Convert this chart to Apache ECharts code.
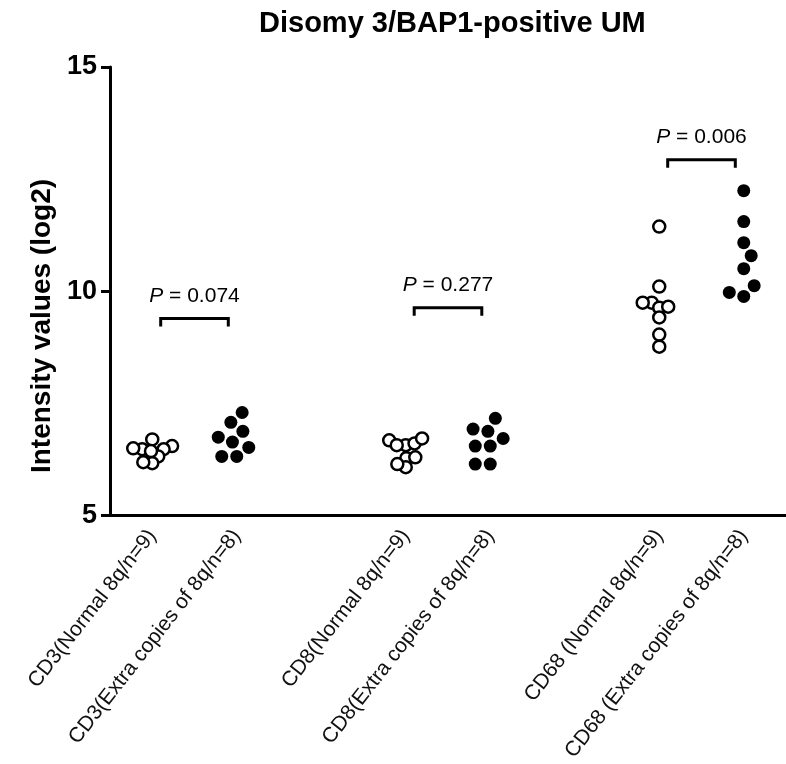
<!DOCTYPE html>
<html>
<head>
<meta charset="utf-8">
<script src="https://cdn.jsdelivr.net/npm/echarts@6/dist/echarts.min.js"></script>
<style>html,body{margin:0;padding:0;background:#fff}#c{width:786px;height:764px}</style>
</head>
<body>
<div id="c"></div>
<script>
// ---- data ----
const categories = ['CD3(Normal 8q/n=9)', 'CD3(Extra copies of 8q/n=8)', '',
  'CD8(Normal 8q/n=9)', 'CD8(Extra copies of 8q/n=8)', '',
  'CD68 (Normal 8q/n=9)', 'CD68 (Extra copies of 8q/n=8)'];
const cd3Normal = [6.69, 6.54, 6.47, 6.49, 6.47, 6.31, 6.43, 6.16, 6.18];
const cd3Extra = [7.29, 7.07, 6.87, 6.74, 6.63, 6.51, 6.31, 6.31];
const cd8Normal = [6.67, 6.56, 6.56, 6.60, 6.71, 6.27, 6.29, 6.07, 6.14];
const cd8Extra = [7.16, 6.87, 6.92, 6.71, 6.54, 6.54, 6.14, 6.14];
const cd68Normal = [11.44, 10.10, 9.74, 9.63, 9.65, 9.74, 9.41, 9.03, 8.76];
const cd68Extra = [12.24, 11.55, 11.08, 10.79, 10.50, 10.12, 9.88, 9.97];
const yTicks = [5, 10, 15];
// comparisons: [category index a, category index b], bracket height, p value
const pairs = [[0, 1], [3, 4], [6, 7]];
const bracketHeights = [9.39, 9.63, 12.93];
const pValues = ['0.074', '0.277', '0.006'];

// ---- layout ----
const W = 786, H = 764;
const grid = { left: 110, right: 0, top: 67, bottom: 248 };
const xMin = -0.5, xMax = 7.5, yMin = 5, yMax = 15;
const pxPerX = (W - grid.left - grid.right) / (xMax - xMin);
const pxPerY = (H - grid.top - grid.bottom) / (yMax - yMin);

// compact beeswarm: horizontal offsets so dots don't overlap too much
function swarm(values, d) {
  const order = values.map((v, i) => i).sort((a, b) => values[a] - values[b]);
  const placed = [];
  const off = new Array(values.length);
  order.forEach((i, k) => {
    const y = values[i] * pxPerY;
    const iv = [];
    placed.forEach(p => {
      const dy = Math.abs(p.y - y);
      if (dy < d) { const w = Math.sqrt(d * d - dy * dy); iv.push([p.x - w, p.x + w]); }
    });
    const cands = [0];
    iv.forEach(([a, b]) => cands.push(a, b));
    const sign = k % 2 ? -1 : 1;
    cands.sort((a, b) => (Math.abs(a) - Math.abs(b)) || (sign * (b - a)));
    let x = 0;
    for (const c of cands) {
      if (iv.every(([a, b]) => c <= a + 1e-6 || c >= b - 1e-6)) { x = c; break; }
    }
    placed.push({ x, y });
    off[i] = x / pxPerX;
  });
  return off;
}

function points(values, cat, d) {
  const off = swarm(values, d);
  return values.map((v, i) => [cat + off[i], v]);
}

const font = 'Liberation Sans, Arial, sans-serif';
const openStyle = { color: '#fff', borderColor: '#000', borderWidth: 2.5, opacity: 1 };
const fillStyle = { color: '#000', opacity: 1 };

function dots(values, cat, open) {
  return {
    type: 'scatter', xAxisIndex: 1, yAxisIndex: 0,
    data: points(values, cat, open ? 9 : 15),
    symbol: 'circle', symbolSize: open ? 12 : 13,
    itemStyle: open ? openStyle : fillStyle,
    silent: true, z: 3
  };
}

const bracketData = pairs.map((p, i) => [p[0], p[1], bracketHeights[i], pValues[i]]);

const chart = echarts.init(document.getElementById('c'), null, { renderer: 'canvas' });
chart.setOption({
  backgroundColor: '#fff',
  animation: false,
  title: {
    text: 'Disomy 3/BAP1-positive UM', left: 254, top: 4,
    textStyle: { fontFamily: font, fontWeight: 'bold', fontSize: 29, color: '#000' }
  },
  graphic: [{
    type: 'text', x: 42, y: 326, rotation: Math.PI / 2,
    style: {
      text: 'Intensity values (log2)', align: 'center', verticalAlign: 'middle',
      fontFamily: font, fontWeight: 'bold', fontSize: 28, fill: '#000'
    }
  }],
  grid: grid,
  xAxis: [{
    type: 'category', data: categories, boundaryGap: true,
    axisLine: { onZero: false, lineStyle: { color: '#000', width: 3 } },
    axisTick: { alignWithLabel: true, length: 9, lineStyle: { color: '#000', width: 3 },
      interval: (i, v) => v !== '' },
    axisLabel: { interval: 0, rotate: 52, margin: 17, fontFamily: font, fontSize: 21, color: '#111' },
    splitLine: { show: false }
  }, {
    type: 'value', min: xMin, max: xMax, show: false
  }],
  yAxis: [{
    type: 'value', min: yMin, max: yMax, interval: 5,
    axisLine: { show: true, onZero: false, lineStyle: { color: '#000', width: 3 } },
    axisTick: { show: true, length: 9, lineStyle: { color: '#000', width: 3 } },
    axisLabel: { margin: 13, fontFamily: font, fontWeight: 'bold', fontSize: 27, color: '#000',
      formatter: v => yTicks.includes(v) ? String(v) : '' },
    splitLine: { show: false }
  }],
  series: [
    dots(cd3Normal, 0, true), dots(cd3Extra, 1, false),
    dots(cd8Normal, 3, true), dots(cd8Extra, 4, false),
    dots(cd68Normal, 6, true), dots(cd68Extra, 7, false),
    {
      type: 'custom', xAxisIndex: 1, yAxisIndex: 0, silent: true, z: 4,
      data: bracketData,
      renderItem: function (params, api) {
        const a = api.value(0), b = api.value(1), h = api.value(2);
        const p0 = api.coord([a + 0.1, h]);
        const p1 = api.coord([b - 0.1, h]);
        const drop = 8;
        return {
          type: 'group',
          children: [{
            type: 'polyline',
            shape: { points: [[p0[0], p0[1] + drop], p0, p1, [p1[0], p1[1] + drop]] },
            style: { stroke: '#000', lineWidth: 3, fill: null }
          }, {
            type: 'text',
            style: {
              x: (p0[0] + p1[0]) / 2, y: p0[1] - 12,
              text: '{i|P} = ' + bracketData[params.dataIndex][3],
              align: 'center', verticalAlign: 'bottom',
              fontFamily: font, fontSize: 21, fill: '#000',
              rich: { i: { fontStyle: 'italic', fontFamily: font, fontSize: 21, color: '#000' } }
            }
          }]
        };
      }
    }
  ]
});
</script>
</body>
</html>
